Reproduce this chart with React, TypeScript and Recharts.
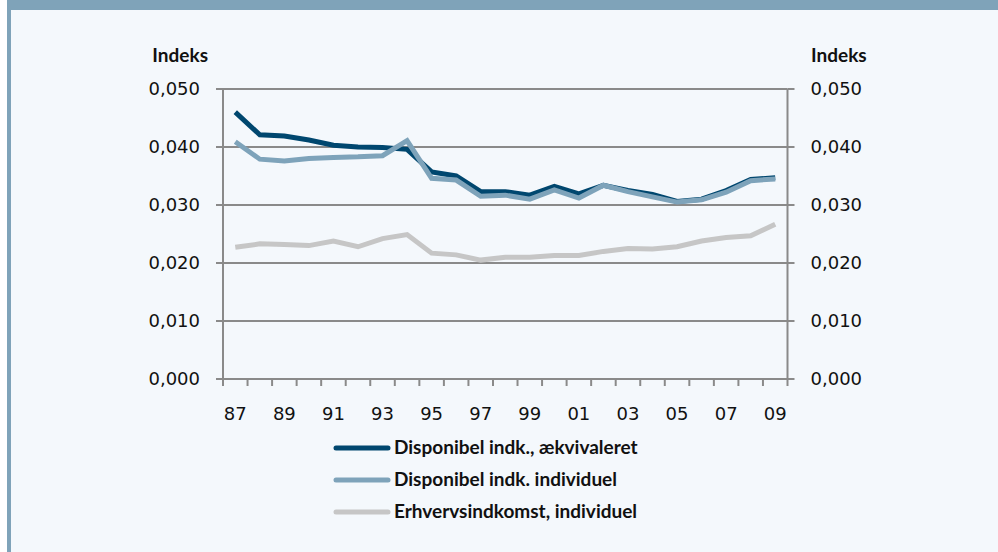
import { LineChart, Line, XAxis, YAxis, CartesianGrid } from 'recharts'

const years = ['87', '88', '89', '90', '91', '92', '93', '94', '95', '96', '97', '98', '99', '00', '01', '02', '03', '04', '05', '06', '07', '08', '09']

// Disponibel indk., ækvivaleret
const dispAekv = [0.046, 0.0421, 0.0419, 0.0412, 0.0403, 0.04, 0.0399, 0.0396, 0.0357, 0.035, 0.0323, 0.0323, 0.0317, 0.0332, 0.0319, 0.0334, 0.0325, 0.0318, 0.0306, 0.031, 0.0325, 0.0344, 0.0347]
// Disponibel indk. individuel
const dispInd = [0.0409, 0.0379, 0.0376, 0.038, 0.0382, 0.0383, 0.0385, 0.0411, 0.0346, 0.0343, 0.0315, 0.0317, 0.031, 0.0326, 0.0312, 0.0334, 0.0323, 0.0314, 0.0305, 0.0309, 0.0322, 0.0342, 0.0345]
// Erhvervsindkomst, individuel
const erhverv = [0.0227, 0.0233, 0.0232, 0.023, 0.0238, 0.0228, 0.0242, 0.0249, 0.0217, 0.0214, 0.0205, 0.021, 0.021, 0.0213, 0.0213, 0.022, 0.0225, 0.0224, 0.0228, 0.0238, 0.0244, 0.0247, 0.0267]

const yTicks = [0, 0.01, 0.02, 0.03, 0.04, 0.05]

// axis: both y axes share the same scale, the last series hangs on the right one
const series = [
  { key: 'aekv', name: 'Disponibel indk., ækvivaleret', color: '#00476f', axis: 'l' },
  { key: 'ind', name: 'Disponibel indk. individuel', color: '#7ea3ba', axis: 'l' },
  { key: 'erh', name: 'Erhvervsindkomst, individuel', color: '#c6c6c6', axis: 'r' },
]

const data = years.map((y, i) => ({ x: i, aekv: dispAekv[i], ind: dispInd[i], erh: erhverv[i] }))

// tick marks between years, labels every second year
const xTicks: number[] = []
years.forEach((_, i) => {
  xTicks.push(i - 0.5)
  if (i % 2 === 0) xTicks.push(i)
})
xTicks.push(years.length - 0.5)

const AXIS = '#8a8a8a'
const tickFont = { fontFamily: 'DejaVu Sans', fontSize: 18, fill: '#111' }
const boldFont = "Lato, 'Noto Sans', sans-serif"

const fmt = (v: number) => v.toFixed(3).replace('.', ',')

function XTick(props: any) {
  const { x, y, payload } = props
  const v = payload.value
  if (!Number.isInteger(v)) {
    return <line x1={x} x2={x} y1={y - 7} y2={y} stroke={AXIS} strokeWidth={2} />
  }
  return (
    <text x={x} y={y + 34} textAnchor="middle" fontFamily="DejaVu Sans" fontSize={18} fill="#111">
      {years[v]}
    </text>
  )
}

export default function App() {
  return (
    <div style={{ position: 'fixed', left: 0, top: 0, width: 998, height: 552, background: '#fff', overflow: 'hidden' }}>
      <div style={{ position: 'absolute', left: 7, top: 0, width: 991, height: 552, background: '#f4f8fc', borderLeft: '4px solid #7fa3b9', boxSizing: 'border-box' }} />
      <div style={{ position: 'absolute', left: 7, top: 0, width: 991, height: 10, background: '#7fa3b9' }} />
      <div style={{ position: 'absolute', left: 0, top: 0 }}>
        <LineChart width={998} height={552} data={data} margin={{ top: 89, right: 0, bottom: 143, left: 0 }}>
          <CartesianGrid yAxisId="l" vertical={false} stroke={AXIS} strokeWidth={2} />
          <XAxis
            dataKey="x"
            type="number"
            domain={[-0.5, years.length - 0.5]}
            ticks={xTicks}
            interval={0}
            tick={<XTick />}
            tickLine={false}
            tickSize={7}
            tickMargin={0}
            height={30}
            axisLine={{ stroke: AXIS, strokeWidth: 2 }}
          />
          <YAxis
            yAxisId="l"
            domain={[0, 0.05]}
            ticks={yTicks}
            width={223}
            tickSize={7}
            tickMargin={16}
            tickFormatter={fmt}
            tick={tickFont}
            tickLine={{ stroke: AXIS, strokeWidth: 2 }}
            axisLine={{ stroke: AXIS, strokeWidth: 2 }}
          />
          <YAxis
            yAxisId="r"
            orientation="right"
            domain={[0, 0.05]}
            ticks={yTicks}
            width={210.5}
            tickSize={7}
            tickMargin={16}
            tickFormatter={fmt}
            tick={{ ...tickFont, textAnchor: 'start' }}
            tickLine={{ stroke: AXIS, strokeWidth: 2 }}
            axisLine={{ stroke: AXIS, strokeWidth: 2 }}
          />
          {series.map(s => (
            <Line
              key={s.key}
              yAxisId={s.axis}
              dataKey={s.key}
              name={s.name}
              type="linear"
              stroke={s.color}
              strokeWidth={5}
              dot={false}
              isAnimationActive={false}
            />
          ))}
        </LineChart>
      </div>
      <svg width={998} height={552} style={{ position: 'absolute', left: 0, top: 0, pointerEvents: 'none' }}>
        <text x={208} y={62} textAnchor="end" fontFamily={boldFont} fontWeight={700} fontSize={19} fill="#111">Indeks</text>
        <text x={811} y={62} fontFamily={boldFont} fontWeight={700} fontSize={19} fill="#111">Indeks</text>
        {series.map((s, i) => (
          <g key={s.key}>
            <line x1={336} x2={388} y1={448 + i * 32} y2={448 + i * 32} stroke={s.color} strokeWidth={5} strokeLinecap="round" />
            <text x={394} y={454 + i * 32} fontFamily={boldFont} fontWeight={700} fontSize={19} fill="#111">{s.name}</text>
          </g>
        ))}
      </svg>
    </div>
  )
}
